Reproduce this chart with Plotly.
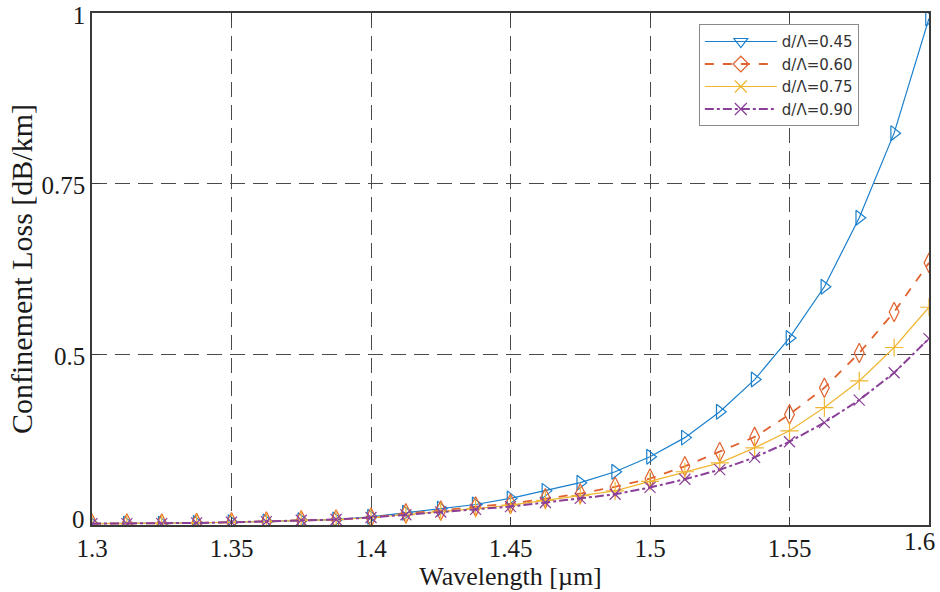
import plotly.graph_objects as go

# Wavelength samples [µm]
wavelength = [1.3, 1.3125, 1.325, 1.3375, 1.35, 1.3625, 1.375, 1.3875, 1.4,
              1.4125, 1.425, 1.4375, 1.45, 1.4625, 1.475, 1.4875, 1.5,
              1.5125, 1.525, 1.5375, 1.55, 1.5625, 1.575, 1.5875, 1.6]

# Confinement loss for each air-hole ratio (axis units)
loss_045 = [0.252, 0.252, 0.252, 0.253, 0.254, 0.255, 0.257, 0.258, 0.262,
            0.268, 0.274, 0.280, 0.289, 0.300, 0.312, 0.328, 0.350,
            0.378, 0.416, 0.463, 0.524, 0.599, 0.700, 0.824, 0.992]
loss_060 = [0.252, 0.252, 0.252, 0.253, 0.254, 0.255, 0.257, 0.258, 0.261,
            0.267, 0.271, 0.277, 0.281, 0.289, 0.296, 0.306, 0.318,
            0.336, 0.357, 0.379, 0.412, 0.451, 0.502, 0.562, 0.634]
loss_075 = [0.252, 0.252, 0.252, 0.253, 0.254, 0.255, 0.257, 0.258, 0.261,
            0.265, 0.270, 0.274, 0.279, 0.286, 0.293, 0.300, 0.314,
            0.328, 0.341, 0.363, 0.388, 0.422, 0.461, 0.510, 0.569]
loss_090 = [0.252, 0.252, 0.252, 0.253, 0.254, 0.255, 0.257, 0.258, 0.261,
            0.265, 0.269, 0.273, 0.277, 0.283, 0.289, 0.295, 0.305,
            0.317, 0.331, 0.349, 0.372, 0.400, 0.433, 0.473, 0.523]

series_names = ["d/Λ=0.45", "d/Λ=0.60", "d/Λ=0.75", "d/Λ=0.90"]

x_ticks = [1.3, 1.35, 1.4, 1.45, 1.5, 1.55, 1.6]
x_ticktext = ["1.3", "1.35", "1.4", "1.45", "1.5", "1.55", "1.6"]
y_ticks = [0.25, 0.5, 0.75, 1.0]
y_ticktext = ["0", "0.5", "0.75", "1"]

colors = ["#1a7fcc", "#e0622f", "#f0b632", "#8a3f98"]
dashes = ["solid", "dash", "solid", "dashdot"]
widths = [1.2, 1.8, 1.2, 2.0]
plot_symbols = ["triangle-right-open", "diamond-tall-open", "cross-thin-open", "x-thin-open"]
legend_symbols = ["triangle-down-open", "diamond-open", "x-thin-open", "x-thin-open"]
marker_sizes = [13, 14, 13, 11]

tick_font = dict(family="Liberation Serif", size=25, color="#1a1a1a")

fig = go.Figure()

for i, ys in enumerate([loss_045, loss_060, loss_075, loss_090]):
    fig.add_trace(go.Scatter(
        x=wavelength, y=ys, mode="lines+markers", showlegend=False,
        line=dict(color=colors[i], width=widths[i], dash=dashes[i]),
        marker=dict(symbol=plot_symbols[i], size=marker_sizes[i],
                    color=colors[i], line=dict(color=colors[i], width=1.2)),
    ))

# legend entries
for i, name in enumerate(series_names):
    fig.add_trace(go.Scatter(
        x=[None], y=[None], mode="lines+markers", name=name,
        line=dict(color=colors[i], width=widths[i], dash=dashes[i]),
        marker=dict(symbol=legend_symbols[i], size=12,
                    color=colors[i], line=dict(color=colors[i], width=1.2)),
    ))

axis_common = dict(
    showline=True, linecolor="#3a3a3a", linewidth=1.5, mirror="ticks",
    ticks="inside", ticklen=8, tickcolor="#3a3a3a", tickwidth=1.2,
    showgrid=True, gridcolor="#4a4a4a", gridwidth=1.3, griddash="15px,8px",
    zeroline=False, automargin=False, ticklabeloverflow="allow",
    tickfont=tick_font,
)

# corner labels are drawn as annotations so they can be nudged off the corner:
# the last x label is right-aligned to its tick, the first y label is lifted
fig.update_xaxes(
    range=[1.3, 1.6], tickvals=x_ticks[:-1], ticktext=x_ticktext[:-1],
    title_text="Wavelength [µm]", title_standoff=2,
    title_font=dict(family="Liberation Serif", size=26, color="#1a1a1a"),
    ticklabelstandoff=0,
    **axis_common,
)
fig.add_annotation(
    x=x_ticks[-1], y=0, xref="x", yref="paper", text=x_ticktext[-1],
    showarrow=False, xanchor="right", yanchor="top", xshift=8, yshift=-1,
    font=tick_font,
)
fig.update_yaxes(
    range=[0.25, 1.0], tickvals=y_ticks, ticktext=[""] + y_ticktext[1:],
    title_text="Confinement Loss [dB/km]", title_standoff=0,
    title_font=dict(family="Liberation Serif", size=30, color="#1a1a1a"),
    ticklabelshift=2,
    **axis_common,
)
fig.add_annotation(
    x=0, y=y_ticks[0], xref="paper", yref="y", text=y_ticktext[0],
    showarrow=False, xanchor="right", yanchor="middle", xshift=-5, yshift=6,
    font=tick_font,
)

fig.update_layout(
    width=940, height=592,
    margin=dict(l=92, r=11, t=13, b=67),
    plot_bgcolor="white", paper_bgcolor="white",
    legend=dict(
        x=0.725, y=0.978, xanchor="left", yanchor="top",
        bgcolor="white", bordercolor="#8a8a8a", borderwidth=1,
        font=dict(family="DejaVu Sans", size=15, color="#333333"),
        itemwidth=72, tracegroupgap=0,
    ),
)

fig.write_html("out.html")
